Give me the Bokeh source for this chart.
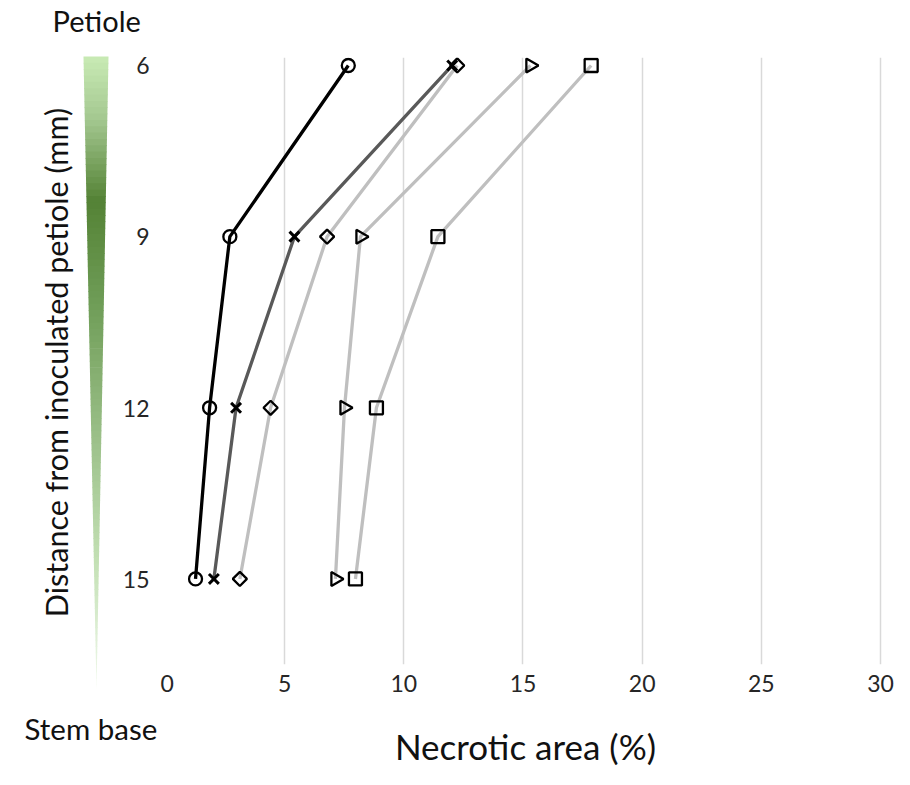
import numpy as np
from bokeh.plotting import figure
from bokeh.layouts import row
from bokeh.models import Range1d, FixedTicker, Label, ColumnDataSource
from bokeh.core.properties import value
from bokeh.embed import file_html
from bokeh.resources import INLINE

# ---- data ----
distance = [6, 9, 12, 15]
y_ticks = [6, 9, 12, 15]
y_tick_labels = ["6", "9", "12", "15"]
x_ticks = [0, 5, 10, 15, 20, 25, 30]
series_circle = [7.67, 2.70, 1.85, 1.26]
series_cross = [12.03, 5.41, 2.96, 2.03]
series_diamond = [12.24, 6.78, 4.41, 3.12]
series_triangle = [15.31, 8.18, 7.51, 7.13]
series_square = [17.86, 11.43, 8.85, 7.97]

FONT = "Lato"
TEXT_COL = "#111111"
TICK_COL = "#262626"

W, H = 894, 769
LEFT_W = 160
FRAME_TOP, FRAME_BOT = 57, 665
Y_BOTTOM, Y_TOP = 16.5, 5.86
PX_PER_MM = (FRAME_BOT - FRAME_TOP) / (Y_BOTTOM - Y_TOP)


def py2y(py):
    """page pixel row -> distance units (same vertical scale in both panels)"""
    return Y_TOP + (py - FRAME_TOP) / PX_PER_MM


# ================= main plot =================
p = figure(width=W - LEFT_W, height=H, output_backend="svg", toolbar_location=None,
           x_range=Range1d(0, 30.21), y_range=Range1d(Y_BOTTOM, Y_TOP),
           min_border_left=5, min_border_right=9, min_border_top=FRAME_TOP,
           min_border_bottom=H - FRAME_BOT)
p.frame_align = False
p.outline_line_color = None
p.background_fill_color = "white"
p.border_fill_color = "white"

p.ygrid.visible = False
p.xgrid.ticker = FixedTicker(ticks=x_ticks)
p.xgrid.grid_line_color = "#d9d9d9"
p.xgrid.grid_line_width = 1.5

p.yaxis.visible = False
ax = p.xaxis[0]
ax.ticker = FixedTicker(ticks=x_ticks)
ax.axis_line_color = None
ax.major_tick_line_color = None
ax.minor_tick_line_color = None
ax.major_label_text_font = FONT
ax.major_label_text_font_size = "23px"
ax.major_label_text_color = TICK_COL
ax.major_label_standoff = 4
ax.axis_label = "Necrotic area (%)"
ax.axis_label_text_font = FONT
ax.axis_label_text_font_size = "35px"
ax.axis_label_text_font_style = "normal"
ax.axis_label_text_color = TEXT_COL
ax.axis_label_standoff = 30

LW = 3.3
p.line(series_square, distance, line_color="#bfbfbf", line_width=LW)
p.line(series_triangle, distance, line_color="#bfbfbf", line_width=LW)
p.line(series_diamond, distance, line_color="#bfbfbf", line_width=LW)
p.line(series_cross, distance, line_color="#595959", line_width=LW)
p.line(series_circle, distance, line_color="#000000", line_width=LW)

MLW = 2.3
p.scatter(series_square, distance, marker="square", size=13, fill_color=None,
          line_color="black", line_width=MLW)
p.scatter(series_triangle, distance, marker="triangle", size=14, angle=-np.pi / 2,
          fill_color=None, line_color="black", line_width=MLW)
p.scatter(series_diamond, distance, marker="square", size=10, angle=np.pi / 4,
          fill_color=None, line_color="black", line_width=MLW)
p.scatter(series_cross, distance, marker="x", size=14, line_color="black",
          line_width=3)
p.scatter(series_circle, distance, marker="circle", size=13, fill_color=None,
          line_color="black", line_width=MLW)

# ================= left panel: gradient wedge, y labels =================
q = figure(width=LEFT_W, height=H, output_backend="svg", toolbar_location=None,
           x_range=Range1d(0, LEFT_W), y_range=Range1d(py2y(H), py2y(0)),
           min_border_left=0, min_border_right=0,
           min_border_top=0, min_border_bottom=0)
q.frame_align = False
q.axis.visible = False
q.grid.visible = False
q.outline_line_color = None
q.background_fill_color = "white"
q.border_fill_color = "white"

# gradient wedge (decoration)
stops_py = [56, 120, 200, 300, 450, 560, 690]
stops_col = ["#c9ebb5", "#a3c78f", "#548235", "#6e9c56", "#9fc38d", "#c3e0b4", "#f2faee"]


def hex2rgb(h):
    return np.array([int(h[i:i + 2], 16) for i in (1, 3, 5)], dtype=float)


rgb_stops = np.array([hex2rgb(c) for c in stops_col])
n = 100
top, bot = 56, 690
edges = np.linspace(top, bot, n + 1)
xs, ys, cols = [], [], []
for i in range(n):
    a = edges[i]
    b = min(edges[i + 1] + 0.7, bot)
    t_a = (a - top) / (bot - top)
    t_b = (b - top) / (bot - top)
    la, ra = 83 + 13 * t_a, 108 - 12 * t_a
    lb, rb = 83 + 13 * t_b, 108 - 12 * t_b
    xs.append([la, ra, rb, lb])
    ys.append([py2y(a), py2y(a), py2y(b), py2y(b)])
    mid = (a + edges[i + 1]) / 2
    c = [np.interp(mid, stops_py, rgb_stops[:, k]) for k in range(3)]
    cols.append("#%02x%02x%02x" % tuple(int(round(v)) for v in c))

q.patches("xs", "ys", source=ColumnDataSource(dict(xs=xs, ys=ys, color=cols)),
          fill_color="color", line_color=None)

# y tick labels (placed on the same distance scale as the main plot)
q.text(x=[149] * len(y_ticks), y=y_ticks, text=y_tick_labels,
       text_font=value(FONT), text_font_size="23px", text_color=TICK_COL,
       text_align="right", text_baseline="middle")

q.add_layout(Label(x=55, y=py2y(362), text="Distance from inoculated petiole (mm)",
                   angle=np.pi / 2, text_font=FONT, text_font_size="30.5px",
                   text_align="center", text_baseline="middle", text_color=TEXT_COL))
q.add_layout(Label(x=52, y=py2y(20), text="Petiole", text_font=FONT,
                   text_font_size="29px", text_baseline="middle", text_align="left",
                   text_color=TEXT_COL))
q.add_layout(Label(x=24, y=py2y(728), text="Stem base", text_font=FONT,
                   text_font_size="29.5px", text_baseline="middle", text_align="left",
                   text_color=TEXT_COL))

layout = row(q, p)
open("out.html", "w").write(file_html(layout, INLINE))
